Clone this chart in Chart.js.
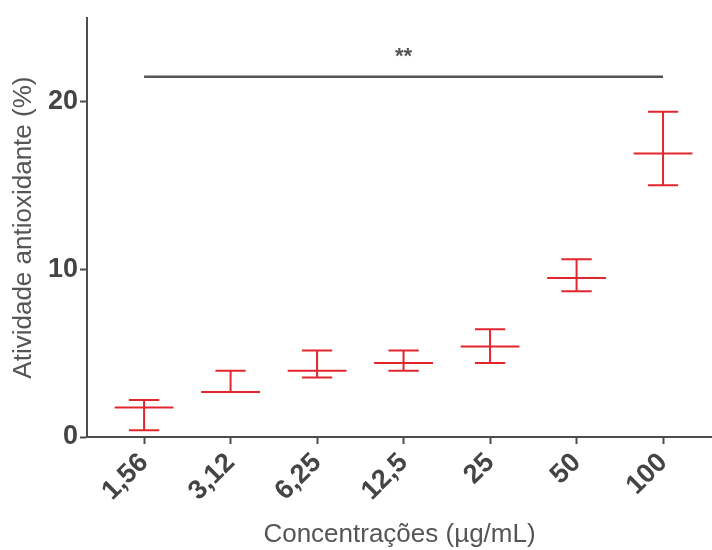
<!DOCTYPE html>
<html>
<head>
<meta charset="utf-8">
<script src="https://cdn.jsdelivr.net/npm/chart.js@4"></script>
<style>
  html, body { margin: 0; padding: 0; background: #fff; }
  #wrap { width: 712px; height: 550px; }
</style>
</head>
<body>
<div id="wrap"><canvas id="antioxChart"></canvas></div>
<script>
// dados
const concentracoes = ['1,56', '3,12', '6,25', '12,5', '25', '50', '100'];
const media = [1.76, 2.68, 3.95, 4.42, 5.40, 9.49, 16.92];
const limiteSuperior = [2.21, 3.95, 5.17, 5.17, 6.43, 10.61, 19.41];
const limiteInferior = [0.40, 2.68, 3.55, 3.95, 4.42, 8.70, 15.03];
const yTicks = [0, 10, 20];
const significancia = { label: '**', y: 21.5, from: 0, to: 6 };

const vermelho = '#e2262e';
const cinza = '#4d4d4d';
const fonte = 'Arial, "Liberation Sans", sans-serif';

// desenha as barras de erro e a linha de significância
const errorBarPlugin = {
    id: 'errorBars',
    afterDatasetsDraw(chart) {
        const ctx = chart.ctx;
        const xs = chart.scales.x;
        const ys = chart.scales.y;
        const meanHalf = 0.34;
        const capHalf = 0.175;

        ctx.save();
        ctx.strokeStyle = vermelho;
        ctx.lineWidth = 2;
        ctx.lineCap = 'butt';
        for (let i = 0; i < media.length; i++) {
            const x = xs.getPixelForValue(i);
            const yM = ys.getPixelForValue(media[i]);
            const yU = ys.getPixelForValue(limiteSuperior[i]);
            const yL = ys.getPixelForValue(limiteInferior[i]);

            ctx.beginPath();
            ctx.moveTo(x, yU);
            ctx.lineTo(x, yL);
            // caps
            ctx.moveTo(xs.getPixelForValue(i - capHalf), yU);
            ctx.lineTo(xs.getPixelForValue(i + capHalf), yU);
            ctx.moveTo(xs.getPixelForValue(i - capHalf), yL);
            ctx.lineTo(xs.getPixelForValue(i + capHalf), yL);
            // média
            ctx.moveTo(xs.getPixelForValue(i - meanHalf), yM);
            ctx.lineTo(xs.getPixelForValue(i + meanHalf), yM);
            ctx.stroke();
        }

        // linha de significância
        const ySig = ys.getPixelForValue(significancia.y);
        const x1 = xs.getPixelForValue(significancia.from);
        const x2 = xs.getPixelForValue(significancia.to);
        ctx.strokeStyle = '#555';
        ctx.lineWidth = 2.5;
        ctx.beginPath();
        ctx.moveTo(x1, ySig);
        ctx.lineTo(x2, ySig);
        ctx.stroke();

        ctx.fillStyle = '#555';
        ctx.font = 'bold 22px ' + fonte;
        ctx.textAlign = 'center';
        ctx.textBaseline = 'middle';
        ctx.fillText(significancia.label, (x1 + x2) / 2, ySig - 20);
        ctx.restore();
    }
};

const ctx = document.getElementById('antioxChart').getContext('2d');
const antioxChart = new Chart(ctx, {
    type: 'scatter',
    data: {
        datasets: [{
            label: 'Média',
            data: media.map((v, i) => ({ x: i, y: v })),
            pointRadius: 0,
            showLine: false
        }]
    },
    options: {
        responsive: true,
        maintainAspectRatio: false,
        animation: false,
        layout: { padding: { top: 13, right: 0, left: 0, bottom: 0 } },
        plugins: {
            legend: { display: false },
            tooltip: { enabled: false }
        },
        scales: {
            x: {
                type: 'linear',
                min: -0.66,
                max: 6.566,
                afterBuildTicks: function (scale) {
                    scale.ticks = concentracoes.map((c, i) => ({ value: i }));
                },
                afterFit: function (scale) {
                    scale.height = 113;
                },
                grid: {
                    drawOnChartArea: false,
                    drawTicks: true,
                    tickLength: 7,
                    tickWidth: 2,
                    tickColor: cinza
                },
                border: { color: cinza, width: 2 },
                ticks: {
                    autoSkip: false,
                    minRotation: 45,
                    maxRotation: 45,
                    padding: 3,
                    color: '#444',
                    font: { family: fonte, size: 27, weight: 'bold' },
                    callback: function (value) {
                        return concentracoes[value] ?? '';
                    }
                },
                title: {
                    display: true,
                    text: 'Concentrações (µg/mL)',
                    color: '#555',
                    padding: { top: 0, bottom: 0 },
                    font: { family: fonte, size: 26 }
                }
            },
            y: {
                min: 0,
                max: 25,
                afterBuildTicks: function (scale) {
                    scale.ticks = yTicks.map(v => ({ value: v }));
                },
                afterFit: function (scale) {
                    scale.width = 87;
                },
                grid: {
                    drawOnChartArea: false,
                    drawTicks: true,
                    tickLength: 7,
                    tickWidth: 2,
                    tickColor: cinza
                },
                border: { color: cinza, width: 2 },
                ticks: {
                    padding: 2,
                    color: '#444',
                    font: { family: fonte, size: 27, weight: 'bold' }
                },
                title: {
                    display: true,
                    text: 'Atividade antioxidante (%)',
                    color: '#555',
                    padding: { top: 8, bottom: 0 },
                    font: { family: fonte, size: 26 }
                }
            }
        }
    },
    plugins: [errorBarPlugin]
});
</script>
</body>
</html>
